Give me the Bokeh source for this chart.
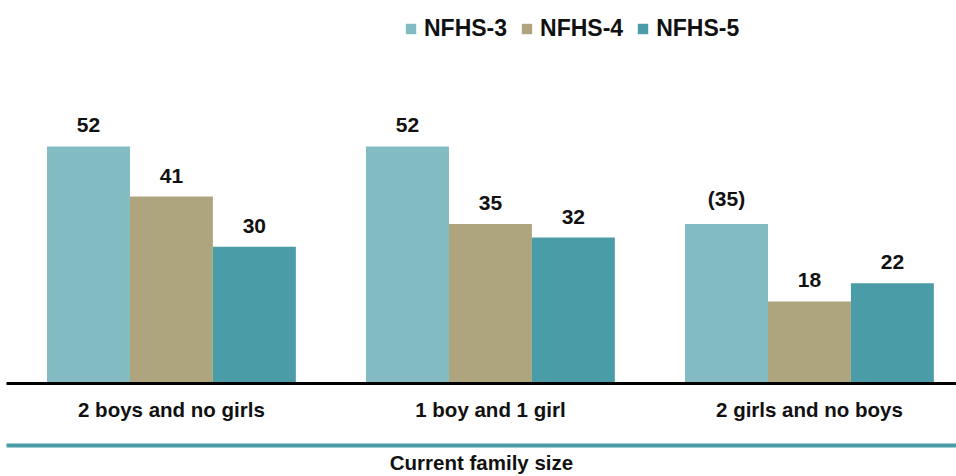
import numpy as np
from bokeh.plotting import figure
from bokeh.models import (ColumnDataSource, LinearAxis, FixedTicker, Range1d,
                          Legend, LegendItem)
from bokeh.core.properties import value
from bokeh.embed import file_html
from bokeh.resources import INLINE

categories = ["2 boys and no girls", "1 boy and 1 girl", "2 girls and no boys"]
series = ["NFHS-3", "NFHS-4", "NFHS-5"]
nfhs3 = [52, 52, 35]
nfhs4 = [41, 35, 18]
nfhs5 = [30, 32, 22]
labels3 = ["52", "52", "(35)"]
labels4 = ["41", "35", "18"]
labels5 = ["30", "32", "22"]
colors = ["#82BBC2", "#AEA57E", "#4A9CA6"]
axis_title = "Current family size"

FONT = "Liberation Sans"
BAR_W = 0.26
offsets = [-BAR_W, 0.0, BAR_W]

p = figure(width=956, height=476, output_backend="svg", toolbar_location=None,
           x_range=Range1d(-0.517, 2.461), y_range=Range1d(0, 84.0),
           x_axis_location=None, y_axis_location=None,
           min_border_left=6, min_border_right=0, min_border_top=0,
           min_border_bottom=93)
p.outline_line_color = None
p.xgrid.visible = False
p.ygrid.visible = False
p.background_fill_color = "white"
p.border_fill_color = "white"

idx = np.arange(len(categories))
renderers = []
for vals, labs, col, off in zip([nfhs3, nfhs4, nfhs5], [labels3, labels4, labels5], colors, offsets):
    src = ColumnDataSource(dict(x=idx + off, top=vals, lab=labs))
    r = p.vbar(x="x", top="top", width=BAR_W, bottom=0, source=src,
               fill_color=col, line_color=None)
    renderers.append(r)
    p.text(x="x", y="top", text="lab", source=src, text_align="center",
           text_baseline="bottom", y_offset=-14, text_font=value(FONT),
           text_font_style="bold", text_font_size="21px", text_color="#111111")

# category axis (black baseline)
ax1 = LinearAxis(ticker=FixedTicker(ticks=list(idx)),
                 major_label_overrides={int(i): c for i, c in zip(idx, categories)})
ax1.axis_line_color = "black"
ax1.axis_line_width = 3
ax1.major_tick_line_color = None
ax1.minor_tick_line_color = None
ax1.major_tick_out = 0
ax1.major_tick_in = 0
ax1.major_label_standoff = 14
ax1.major_label_text_font = FONT
ax1.major_label_text_font_style = "bold"
ax1.major_label_text_font_size = "20.5px"
ax1.major_label_text_color = "#111111"
ax1.axis_label = " "
ax1.axis_label_text_font_size = "8px"
ax1.axis_label_standoff = 10
p.add_layout(ax1, "below")

# teal rule with axis title
ax2 = LinearAxis(ticker=FixedTicker(ticks=[]))
ax2.axis_line_color = "#4A9CA6"
ax2.axis_line_width = 4
ax2.major_tick_line_color = None
ax2.minor_tick_line_color = None
ax2.major_tick_out = 0
ax2.major_tick_in = 0
ax2.major_label_standoff = 0
ax2.major_label_text_font_size = "0px"
ax2.axis_label = axis_title
ax2.axis_label_text_font = FONT
ax2.axis_label_text_font_style = "bold"
ax2.axis_label_text_font_size = "20.5px"
ax2.axis_label_text_color = "#111111"
ax2.axis_label_standoff = 5
p.add_layout(ax2, "below")

legend = Legend(items=[LegendItem(label=s, renderers=[r]) for s, r in zip(series, renderers)],
                orientation="horizontal", location=(398, 341))
legend.label_text_font = FONT
legend.label_text_font_style = "bold"
legend.label_text_font_size = "23px"
legend.label_text_color = "#111111"
legend.glyph_width = 13
legend.glyph_height = 13
legend.label_standoff = 7
legend.spacing = 13
legend.padding = 4
legend.margin = 0
legend.border_line_color = None
legend.background_fill_alpha = 0
p.add_layout(legend, "center")

open("out.html", "w").write(file_html(p, INLINE))
